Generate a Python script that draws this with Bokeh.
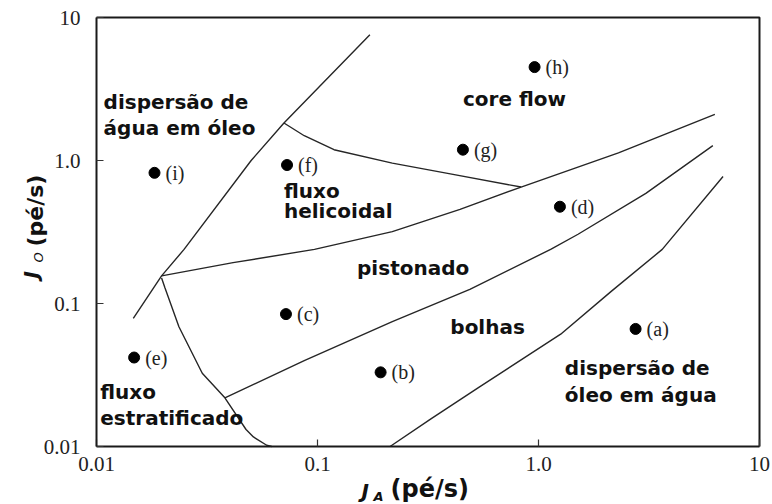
import math
from bokeh.plotting import figure
from bokeh.models import FixedTicker
from bokeh.core.properties import value
from bokeh.embed import file_html
from bokeh.resources import INLINE

# ---- axes ----
x_ticks = [0.01, 0.1, 1.0, 10.0]
x_tick_labels = ["0.01", "0.1", "1.0", "10"]
y_ticks = [0.01, 0.1, 1.0, 10.0]
y_tick_labels = ["0.01", "0.1", "1.0", "10"]

# ---- experimental points ----
point_names = ["(a)", "(b)", "(c)", "(d)", "(e)", "(f)", "(g)", "(h)", "(i)"]
point_ja = [2.75, 0.193, 0.072, 1.25, 0.0148, 0.0728, 0.455, 0.96, 0.0183]
point_jo = [0.0664, 0.033, 0.0843, 0.475, 0.0419, 0.93, 1.19, 4.5, 0.82]

# ---- regime boundaries ----
# dispersao de agua em oleo
b1_ja = [0.01467, 0.0197, 0.0249, 0.0501, 0.0705, 0.1726]
b1_jo = [0.0787, 0.156, 0.239, 1.0, 1.83, 7.58]
# core flow / fluxo helicoidal
b2_ja = [0.0705, 0.0871, 0.1188, 0.218, 0.399, 0.834]
b2_jo = [1.83, 1.49, 1.19, 0.958, 0.807, 0.652]
# top of pistonado
b3_ja = [0.0197, 0.0415, 0.0969, 0.218, 0.4415, 0.834, 2.30, 6.28]
b3_jo = [0.156, 0.193, 0.239, 0.318, 0.455, 0.652, 1.13, 2.10]
# pistonado / bolhas
b4_ja = [0.0381, 0.0871, 0.218, 0.489, 1.135, 1.51, 3.06, 6.15]
b4_jo = [0.0219, 0.0398, 0.0748, 0.1257, 0.239, 0.305, 0.589, 1.27]
# fluxo estratificado
b5_ja = [0.0197, 0.0204, 0.0236, 0.0301, 0.0381, 0.0475, 0.0513, 0.0589, 0.0621]
b5_jo = [0.151, 0.129, 0.0688, 0.0325, 0.0219, 0.01315, 0.01166, 0.0102, 0.01]
# bolhas / dispersao de oleo em agua
b6_ja = [0.213, 0.326, 0.539, 1.26, 2.14, 3.63, 6.84]
b6_jo = [0.01, 0.0156, 0.026, 0.061, 0.122, 0.239, 0.773]

# ---- region labels ----
region_text = ["dispersão de", "água em óleo", "core flow", "fluxo", "helicoidal",
               "pistonado", "bolhas", "dispersão de", "óleo em água",
               "fluxo", "estratificado"]
region_x = [0.01077, 0.01077, 0.455, 0.0705, 0.0705, 0.151, 0.399, 1.316, 1.316,
            0.0104, 0.0104]
region_y = [2.55, 1.68, 2.68, 0.615, 0.442, 0.177, 0.0688, 0.0353, 0.0231,
            0.0239, 0.01585]

# ---- axis titles ----
y_title = ["J", "O", "(pé/s)"]
x_title = ["J", "A", "(pé/s)"]

# layout (pixels): plot box from x=96 to 759, y=17 to 446 on a 772x504 canvas;
# the frame fills the canvas so that titles and tick labels are never clipped.
W, H = 772, 504
BOX_L, BOX_R, BOX_T, BOX_B = 96, 759, 17, 446
x_dec = (BOX_R - BOX_L) / 3.0
y_dec = (BOX_B - BOX_T) / 3.0
x_start = 10 ** (math.log10(x_ticks[0]) - BOX_L / x_dec)
x_end = 10 ** (math.log10(x_ticks[-1]) + (W - BOX_R) / x_dec)
y_start = 10 ** (math.log10(y_ticks[0]) - (H - BOX_B) / y_dec)
y_end = 10 ** (math.log10(y_ticks[-1]) + BOX_T / y_dec)

p = figure(width=W, height=H, x_axis_type="log", y_axis_type="log",
           x_range=(x_start, x_end), y_range=(y_start, y_end),
           output_backend="svg", toolbar_location=None,
           min_border_left=0, min_border_right=0, min_border_top=0,
           min_border_bottom=0)
p.grid.grid_line_color = None
p.outline_line_color = None
p.background_fill_color = "white"
p.border_fill_color = "white"

for ax, ticks, labels, standoff, loc in (
        (p.xaxis[0], x_ticks, x_tick_labels, 10, y_ticks[0]),
        (p.yaxis[0], y_ticks, y_tick_labels, 16, x_ticks[0])):
    ax.fixed_location = loc
    ax.bounds = (ticks[0], ticks[-1])
    ax.ticker = FixedTicker(ticks=ticks, minor_ticks=[])
    ax.major_label_overrides = dict(zip(ticks, labels))
    ax.major_tick_in = 7
    ax.major_tick_out = 0
    ax.minor_tick_line_color = None
    ax.axis_line_width = 2
    ax.axis_line_color = "#1a1a1a"
    ax.major_tick_line_width = 1.2
    ax.major_tick_line_color = "#333333"
    ax.major_label_text_font = "Liberation Serif"
    ax.major_label_text_font_size = "21px"
    ax.major_label_text_color = "#222222"
    ax.major_label_standoff = standoff
    ax.axis_label = None

# top and right edges of the plot box
p.line([x_ticks[0], x_ticks[-1], x_ticks[-1]], [y_ticks[-1], y_ticks[-1], y_ticks[0]],
       line_color="#1a1a1a", line_width=2)

line_color = "#262626"
for xs, ys in ((b1_ja, b1_jo), (b2_ja, b2_jo), (b3_ja, b3_jo),
               (b4_ja, b4_jo), (b5_ja, b5_jo), (b6_ja, b6_jo)):
    p.line(xs, ys, line_color=line_color, line_width=1.4)

p.scatter(point_ja, point_jo, size=11, color="black")
p.text(x=point_ja, y=point_jo, text=point_names, x_offset=11,
       text_baseline="middle", text_align="left",
       text_font=value("Liberation Serif"), text_font_size="20px",
       text_color="#222222")

p.text(x=region_x, y=region_y, text=region_text,
       text_baseline="middle", text_align="left",
       text_font=value("DejaVu Sans"), text_font_style="bold",
       text_font_size="20px", text_color="#111111")

# axis titles, offset in pixels from the lower-left corner of the box
def title_part(t, dx, dy, size, style, angle):
    p.text(x=[x_ticks[0]], y=[y_ticks[0]], text=[t], x_offset=dx, y_offset=dy,
           angle=angle, text_font=value("DejaVu Sans"), text_font_style=style,
           text_font_size=size, text_baseline="middle", text_align="left",
           text_color="#111111")

title_part(y_title[0], -66, -168, "20px", "bold italic", math.pi / 2)
title_part(y_title[1], -58, -184, "13px", "italic", math.pi / 2)
title_part(y_title[2], -61, -200, "22px", "bold", math.pi / 2)

title_part(x_title[0], 265, 44, "20px", "bold italic", 0.0)
title_part(x_title[1], 277, 50, "13px", "bold italic", 0.0)
title_part(x_title[2], 294, 42, "24px", "bold", 0.0)

open("out.html", "w").write(file_html(p, INLINE))
